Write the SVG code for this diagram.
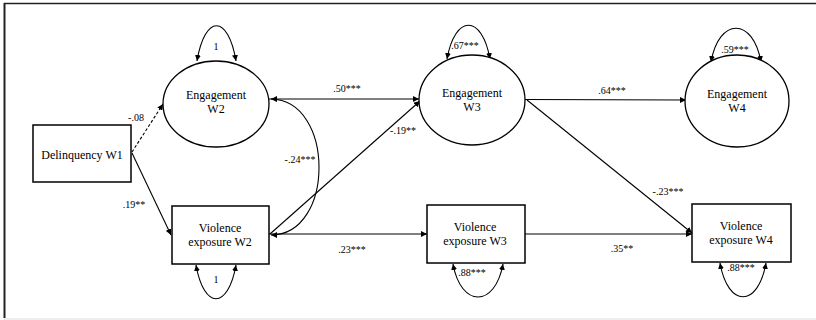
<svg xmlns="http://www.w3.org/2000/svg" width="816" height="320" viewBox="0 0 816 320">
<defs>
<marker id="ah" viewBox="0 0 10 10" refX="10" refY="5" markerWidth="6" markerHeight="6" markerUnits="userSpaceOnUse" orient="auto-start-reverse">
<path d="M0,0 L10,5 L0,10 z" fill="#000"/>
</marker>
<style>
.node{fill:#fff;stroke:#000;stroke-width:1.5}
.ell{fill:#fff;stroke:#000;stroke-width:1.3}
.t{font-family:"Liberation Serif","Times New Roman",serif;font-size:12px;fill:#000;text-anchor:middle}
.l{font-family:"Liberation Serif","Times New Roman",serif;font-size:10px;fill:#000;text-anchor:middle}
.c{fill:none;stroke:#000;stroke-width:1.1}
.arr{marker-end:url(#ah)}
.both{marker-start:url(#ah);marker-end:url(#ah)}
</style>
</defs>
<rect width="816" height="320" fill="#fff"/>
<g id="frame">
<line x1="4.5" y1="3" x2="4.5" y2="318" stroke="#222" stroke-width="2"/>
<line x1="4" y1="3.5" x2="816" y2="3.5" stroke="#222" stroke-width="1.5"/>
<line x1="4" y1="319" x2="816" y2="319" stroke="#ddd" stroke-width="1"/>
</g>
<g id="connectors">
<path class="c arr" d="M132,152 L163,104" stroke-dasharray="3,2"/>
<path class="c arr" d="M132,153 L171,235"/>
<path class="c arr" d="M269,99 L419,99"/>
<path class="c both" d="M271,99 C335,100 335,235 271,235"/>
<path class="c arr" d="M270,234 L420,101"/>
<path class="c arr" d="M269,234 L427,234"/>
<path class="c arr" d="M525,99.5 L686,100"/>
<path class="c arr" d="M527,100 L692,233"/>
<path class="c arr" d="M525,234 L692,234"/>
<path class="c both" d="M197,61 C205,14 228,14 236,61"/>
<path class="c both" d="M447,59 C455,14 482,14 490,59"/>
<path class="c both" d="M711,62 C719,17 753,17 761,62"/>
<path class="c both" d="M196,265 C204,310 228,310 236,265"/>
<path class="c both" d="M453,264 C461,308 495,308 503,264"/>
<path class="c both" d="M720,263 C728,308 758,308 766,263"/>
</g>
<g id="labels">
<text class="l" x="216" y="50">1</text>
<text class="l" x="465" y="49">.67***</text>
<text class="l" x="735" y="53">.59***</text>
<text class="l" x="216" y="283">1</text>
<text class="l" x="472" y="276">.88***</text>
<text class="l" x="741" y="271">.88***</text>
<text class="l" x="136" y="121">-.08</text>
<text class="l" x="134" y="208">.19**</text>
<text class="l" x="347" y="92">.50***</text>
<text class="l" x="300" y="163">-.24***</text>
<text class="l" x="403" y="134">-.19**</text>
<text class="l" x="352" y="253">.23***</text>
<text class="l" x="612" y="94">.64***</text>
<text class="l" x="668" y="195">-.23***</text>
<text class="l" x="622" y="252">.35**</text>
</g>
<g id="delinquency-w1">
<rect class="node" x="33" y="125" width="98" height="57"/>
<text class="t" x="82" y="159">Delinquency W1</text>
</g>
<g id="engagement-w2">
<ellipse class="ell" cx="216" cy="104" rx="53" ry="43"/>
<text class="t" x="216" y="99">Engagement</text>
<text class="t" x="216" y="113">W2</text>
</g>
<g id="engagement-w3">
<ellipse class="ell" cx="472" cy="100" rx="53" ry="45"/>
<text class="t" x="472" y="97">Engagement</text>
<text class="t" x="472" y="111">W3</text>
</g>
<g id="engagement-w4">
<ellipse class="ell" cx="737" cy="101" rx="52" ry="46"/>
<text class="t" x="737" y="98">Engagement</text>
<text class="t" x="737" y="112">W4</text>
</g>
<g id="violence-exposure-w2">
<rect class="node" x="172" y="206" width="97" height="58"/>
<text class="t" x="220" y="232">Violence</text>
<text class="t" x="220" y="246">exposure W2</text>
</g>
<g id="violence-exposure-w3">
<rect class="node" x="427" y="205" width="98" height="58"/>
<text class="t" x="475" y="231">Violence</text>
<text class="t" x="475" y="245">exposure W3</text>
</g>
<g id="violence-exposure-w4">
<rect class="node" x="692" y="204" width="99" height="58"/>
<text class="t" x="741" y="230">Violence</text>
<text class="t" x="741" y="244">exposure W4</text>
</g>
</svg>
